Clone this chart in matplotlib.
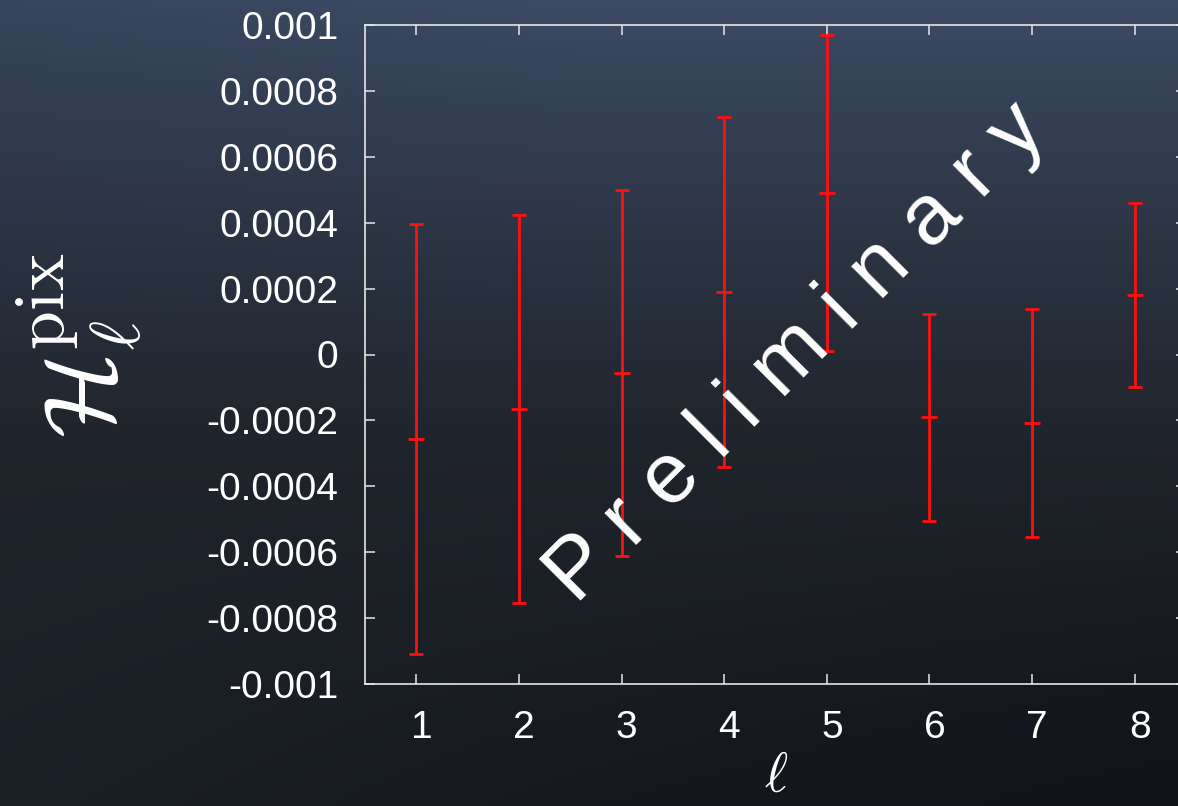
import numpy as np
import matplotlib
matplotlib.use("Agg")
import matplotlib.pyplot as plt
import matplotlib.transforms as mtransforms

plt.rcParams['font.family'] = ['Liberation Sans', 'DejaVu Sans']
plt.rcParams['mathtext.fontset'] = 'cm'

# data
ell = [1, 2, 3, 4, 5, 6, 7, 8]
h_pix = [-0.000256, -0.000165, -0.000056, 0.000190, 0.000490, -0.000191, -0.000208, 0.000180]
h_err = [0.000653, 0.000588, 0.000555, 0.000531, 0.000480, 0.000313, 0.000345, 0.000280]
y_ticks = [-0.001, -0.0008, -0.0006, -0.0004, -0.0002, 0, 0.0002, 0.0004, 0.0006, 0.0008, 0.001]
y_labels = ['-0.001', '-0.0008', '-0.0006', '-0.0004', '-0.0002', '0',
            '0.0002', '0.0004', '0.0006', '0.0008', '0.001']

W, H = 1178, 806
fig = plt.figure(figsize=(W / 100, H / 100), dpi=100)

# gradient background
bg = fig.add_axes([0, 0, 1, 1], zorder=-10)
yy, xx = np.mgrid[0:1:200j, 0:1:300j]
top = np.array([0.235, 0.295, 0.395])
mid = np.array([0.125, 0.140, 0.170])
bot_l = np.array([0.105, 0.122, 0.150])
bot_r = np.array([0.060, 0.070, 0.090])
img = np.zeros(yy.shape + (3,))
for c in range(3):
    bot = bot_l[c] * (1 - xx) + bot_r[c] * xx
    upper = top[c] + (mid[c] - top[c]) * np.clip(yy / 0.55, 0, 1) ** 0.9
    lower = mid[c] + (bot - mid[c]) * np.clip((yy - 0.55) / 0.45, 0, 1)
    img[..., c] = np.where(yy < 0.55, upper, lower)
# slightly darker top-left corner
img *= (1 - 0.08 * np.clip(1 - xx * 2, 0, 1)[..., None] * np.clip(1 - yy * 2, 0, 1)[..., None])
bg.imshow(img, aspect='auto', extent=[0, 1, 0, 1], origin='upper')
bg.axis('off')

ax = fig.add_axes([365 / W, 1 - 684 / H, (1186 - 365) / W, (684 - 25) / H])
ax.set_facecolor('none')

ax.errorbar(ell, h_pix, yerr=h_err, fmt='_', color='#ff1010', ecolor='#ff1010',
            elinewidth=2.0, capsize=5, capthick=2.0, markersize=12,
            markeredgewidth=2.0, zorder=3)

ax.set_xlim(0.5, 8.5)
ax.set_ylim(-0.001, 0.001)
ax.set_xticks(ell)
ax.set_yticks(y_ticks)
ax.set_yticklabels(y_labels)

for s in ax.spines.values():
    s.set_color('#e6e6e6')
    s.set_linewidth(1.2)
ax.tick_params(axis='both', direction='in', length=7, width=1.1, color='#e6e6e6',
               labelcolor='white', labelsize=28, top=True, right=True)
ax.tick_params(axis='y', pad=19)
ax.tick_params(axis='x', pad=19)

# gnuplot puts the x labels a touch right of the ticks
shift = mtransforms.ScaledTranslation(5 / 100, 0, fig.dpi_scale_trans)
for lab in ax.get_xticklabels():
    lab.set_transform(lab.get_transform() + shift)

fig.text(797 / W, 1 - 354 / H, 'P r e l i m i n a r y', color='white', fontsize=62,
         rotation=45, ha='center', va='center', rotation_mode='anchor', zorder=5)

fig.text(80 / W, 1 - 345 / H, r'$\mathcal{H}_\ell^{\rm pix}$', color='white', fontsize=72,
         rotation=90, ha='center', va='center')
fig.text(776 / W, 1 - 778 / H, r'$\ell$', color='white', fontsize=40,
         ha='center', va='center')

fig.savefig('out.png', dpi=100)
